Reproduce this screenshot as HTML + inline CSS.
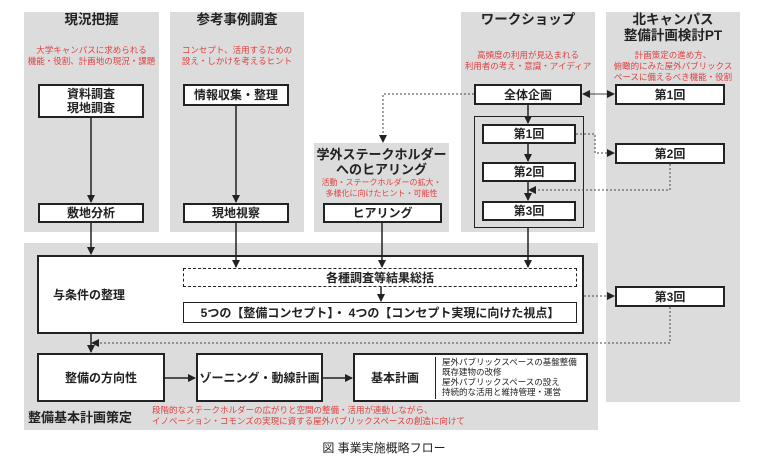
<!DOCTYPE html>
<html><head><meta charset="utf-8"><style>
*{margin:0;padding:0;box-sizing:border-box}
body{width:768px;height:464px;background:#fff;position:relative;overflow:hidden;font-family:"Liberation Sans","Noto Sans CJK JP",sans-serif;color:#222}
.p{position:absolute;background:#dcdcdc}
.b{position:absolute;background:#fff;border:2px solid #222;display:flex;align-items:center;justify-content:center;text-align:center;font-size:12px;font-weight:bold;line-height:14px}
.t{position:absolute;text-align:center;font-weight:bold;font-size:13.5px;line-height:16px}
.r{position:absolute;text-align:center;color:#e04040;font-size:8.5px;line-height:11px;white-space:nowrap}
svg{position:absolute;left:0;top:0}
</style></head><body>
<div class="p" style="left:24px;top:12px;width:135px;height:220px"></div>
<div class="p" style="left:170px;top:12px;width:134px;height:220px"></div>
<div class="p" style="left:314px;top:143px;width:135px;height:89px"></div>
<div class="p" style="left:461px;top:12px;width:134px;height:220px"></div>
<div class="p" style="left:606px;top:12px;width:134px;height:390px"></div>
<div class="p" style="left:24px;top:243px;width:574px;height:187px"></div>

<div class="t" style="left:24px;top:12px;width:135px">現況把握</div>
<div class="r" style="left:24px;top:45px;width:135px">大学キャンパスに求められる<br>機能・役割、計画地の現況・課題</div>
<div class="t" style="left:170px;top:12px;width:134px">参考事例調査</div>
<div class="r" style="left:170px;top:45px;width:134px">コンセプト、活用するための<br>設え・しかけを考えるヒント</div>
<div class="t" style="left:461px;top:12px;width:134px">ワークショップ</div>
<div class="r" style="left:461px;top:50px;width:134px">高頻度の利用が見込まれる<br>利用者の考え・意識・アイディア</div>
<div class="t" style="left:606px;top:12px;width:134px">北キャンパス<br>整備計画検討PT</div>
<div class="r" style="left:606px;top:50px;width:134px">計画策定の進め方、<br>俯瞰的にみた屋外パブリックス<br>ペースに備えるべき機能・役割</div>
<div class="t" style="left:310px;top:147px;width:143px;font-size:13px;line-height:15px">学外ステークホルダー<br>へのヒアリング</div>
<div class="r" style="left:314px;top:177px;width:135px;font-size:8px">活動・ステークホルダーの拡大・<br>多様化に向けたヒント・可能性</div>

<div class="b" style="left:38px;top:84px;width:106px;height:34px">資料調査<br>現地調査</div>
<div class="b" style="left:38px;top:203px;width:106px;height:20px">敷地分析</div>
<div class="b" style="left:183px;top:84px;width:106px;height:22px">情報収集・整理</div>
<div class="b" style="left:183px;top:203px;width:106px;height:20px">現地視察</div>
<div class="b" style="left:323px;top:203px;width:119px;height:20px">ヒアリング</div>
<div class="b" style="left:474px;top:84px;width:108px;height:21px">全体企画</div>
<div style="position:absolute;left:474px;top:116px;width:110px;height:112px;border:1px solid #222"></div>
<div class="b" style="left:482px;top:124px;width:94px;height:20px">第1回</div>
<div class="b" style="left:482px;top:162px;width:94px;height:20px">第2回</div>
<div class="b" style="left:482px;top:201px;width:94px;height:20px">第3回</div>
<div class="b" style="left:615px;top:84px;width:110px;height:21px">第1回</div>
<div class="b" style="left:615px;top:143px;width:110px;height:21px">第2回</div>
<div class="b" style="left:615px;top:286px;width:110px;height:21px">第3回</div>

<div class="b" style="left:37px;top:255px;width:547px;height:79px;justify-content:flex-start;padding-left:14px">与条件の整理</div>
<div class="b" style="left:183px;top:268px;width:394px;height:19px;border:1.5px dashed #222">各種調査等結果総括</div>
<div class="b" style="left:183px;top:302px;width:394px;height:21px;border-width:1.5px">5つの【整備コンセプト】・ 4つの【コンセプト実現に向けた視点】</div>
<div class="b" style="left:37px;top:353px;width:128px;height:49px">整備の方向性</div>
<div class="b" style="left:196px;top:353px;width:127px;height:49px">ゾーニング・動線計画</div>
<div class="b" style="left:353px;top:353px;width:235px;height:49px;justify-content:flex-start"><span style="width:80px">基本計画</span><span style="border-left:1.5px solid #222;padding-left:6px;height:42px;font-weight:normal;font-size:8.5px;line-height:10px;text-align:left;white-space:nowrap">屋外パブリックスペースの基盤整備<br>既存建物の改修<br>屋外パブリックスペースの設え<br>持続的な活用と維持管理・運営</span></div>

<div class="t" style="left:28px;top:410px;font-size:13px;text-align:left">整備基本計画策定</div>
<div class="r" style="left:152px;top:405px;text-align:left">段階的なステークホルダーの広がりと空間の整備・活用が連動しながら、<br>イノベーション・コモンズの実現に資する屋外パブリックスペースの創造に向けて</div>
<div style="position:absolute;left:0;top:439px;width:768px;text-align:center;font-size:12px">図 事業実施概略フロー</div>

<svg width="768" height="464">
<defs><marker id="a" markerWidth="8" markerHeight="8" refX="7" refY="4" orient="auto" markerUnits="userSpaceOnUse"><path d="M0,0L8,4L0,8z" fill="#222"/></marker></defs>
<g stroke="#222" stroke-width="1.5" fill="none">
<path d="M91 118V202" marker-end="url(#a)"/>
<path d="M236 106V202" marker-end="url(#a)"/>
<path d="M91 223V254" marker-end="url(#a)"/>
<path d="M236 223V267" marker-end="url(#a)"/>
<path d="M382 223V267" marker-end="url(#a)"/>
<path d="M528 228V267" marker-end="url(#a)"/>
<path d="M528 105V123" marker-end="url(#a)"/>
<path d="M528 144V161" marker-end="url(#a)"/>
<path d="M528 182V200" marker-end="url(#a)"/>
<path d="M381 287V301" marker-end="url(#a)"/>
<path d="M91 334V352" marker-end="url(#a)"/>
<path d="M165 378H195" marker-end="url(#a)"/>
<path d="M323 378H352" marker-end="url(#a)"/>
</g>
<g stroke="#444" stroke-width="1" stroke-dasharray="2,2" fill="none">
<path d="M474 94H383V142" marker-end="url(#a)"/>
<path d="M590 94H614" marker-end="url(#a)"/>
<path d="M606 94H583" marker-end="url(#a)"/>
<path d="M576 134H595V153H614" marker-end="url(#a)"/>
<path d="M670 164V190H529" marker-end="url(#a)"/>
<path d="M584 296H614" marker-end="url(#a)"/>
<path d="M670 307V343H92" marker-end="url(#a)"/>
</g>
</svg>
</body></html>
